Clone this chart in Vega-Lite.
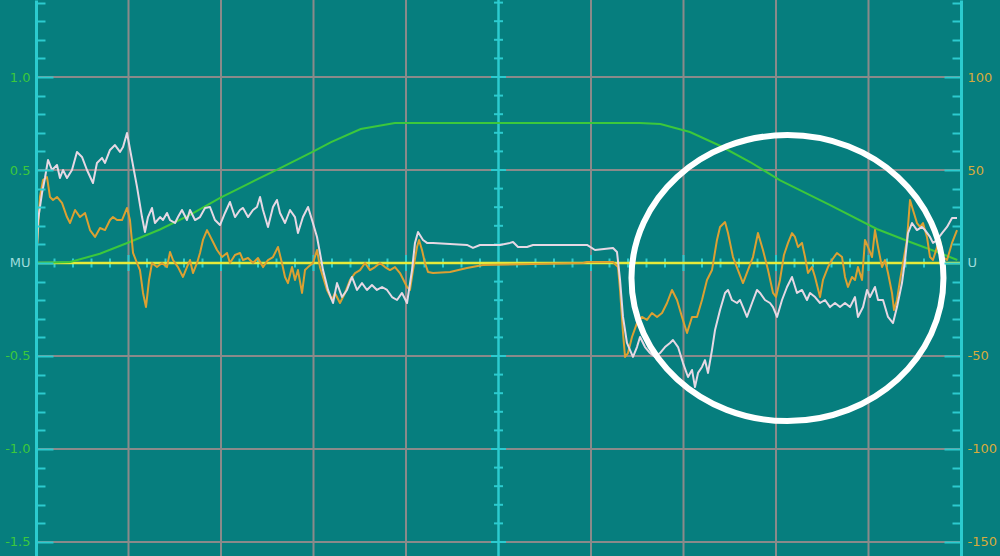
{
  "$schema": "https://vega.github.io/schema/vega-lite/v6.json",
  "width": 925,
  "height": 556,
  "autosize": {"type": "none"},
  "padding": {"left": 36, "right": 39, "top": 0, "bottom": 0},
  "background": "#067e7e",
  "config": {"view": {"stroke": null}},
  "datasets": {
    "vgrid": [{"t": 1}, {"t": 2}, {"t": 3}, {"t": 4}, {"t": 6}, {"t": 7}, {"t": 8}, {"t": 9}],
    "hgrid": [{"v": 1}, {"v": 0.5}, {"v": -0.5}, {"v": -1}, {"v": -1.5}],
    "xticks": [{"t":0.2},{"t":0.4},{"t":0.6},{"t":0.8},{"t":1},{"t":1.2},{"t":1.4},{"t":1.6},{"t":1.8},{"t":2},{"t":2.2},{"t":2.4},{"t":2.6},{"t":2.8},{"t":3},{"t":3.2},{"t":3.4},{"t":3.6},{"t":3.8},{"t":4},{"t":4.2},{"t":4.4},{"t":4.6},{"t":4.8},{"t":5.2},{"t":5.4},{"t":5.6},{"t":5.8},{"t":6},{"t":6.2},{"t":6.4},{"t":6.6},{"t":6.8},{"t":7},{"t":7.2},{"t":7.4},{"t":7.6},{"t":7.8},{"t":8},{"t":8.2},{"t":8.4},{"t":8.6},{"t":8.8},{"t":9},{"t":9.2},{"t":9.4},{"t":9.6},{"t":9.8}],
    "yticks": [{"v":-1.5},{"v":-1.4},{"v":-1.3},{"v":-1.2},{"v":-1.1},{"v":-1},{"v":-0.9},{"v":-0.8},{"v":-0.7},{"v":-0.6},{"v":-0.5},{"v":-0.4},{"v":-0.3},{"v":-0.2},{"v":-0.1},{"v":0.1},{"v":0.2},{"v":0.3},{"v":0.4},{"v":0.5},{"v":0.6},{"v":0.7},{"v":0.8},{"v":0.9},{"v":1},{"v":1.1},{"v":1.2},{"v":1.3},{"v":1.4}],
    "green": [{"t":0,"v":0},{"t":0.37,"v":0.005},{"t":0.69,"v":0.05},{"t":1.0,"v":0.11},{"t":1.34,"v":0.18},{"t":1.67,"v":0.26},{"t":1.99,"v":0.35},{"t":2.31,"v":0.43},{"t":2.64,"v":0.51},{"t":3.0,"v":0.6},{"t":3.19,"v":0.65},{"t":3.51,"v":0.72},{"t":3.88,"v":0.753},{"t":6.53,"v":0.753},{"t":6.75,"v":0.747},{"t":7.07,"v":0.704},{"t":7.4,"v":0.629},{"t":7.72,"v":0.543},{"t":8.04,"v":0.446},{"t":8.58,"v":0.312},{"t":9.09,"v":0.183},{"t":9.45,"v":0.113},{"t":9.77,"v":0.054},{"t":9.96,"v":0.016}],
    "orange": [{"t":0,"v":0.032},{"t":0.011,"v":0.086},{"t":0.043,"v":0.355},{"t":0.076,"v":0.446},{"t":0.119,"v":0.462},{"t":0.151,"v":0.355},{"t":0.184,"v":0.339},{"t":0.227,"v":0.355},{"t":0.281,"v":0.323},{"t":0.335,"v":0.247},{"t":0.368,"v":0.215},{"t":0.422,"v":0.285},{"t":0.476,"v":0.247},{"t":0.53,"v":0.269},{"t":0.584,"v":0.177},{"t":0.638,"v":0.14},{"t":0.692,"v":0.188},{"t":0.746,"v":0.177},{"t":0.8,"v":0.231},{"t":0.832,"v":0.247},{"t":0.876,"v":0.231},{"t":0.93,"v":0.231},{"t":0.984,"v":0.296},{"t":1.016,"v":0.231},{"t":1.049,"v":0.054},{"t":1.092,"v":0},{"t":1.124,"v":-0.038},{"t":1.157,"v":-0.161},{"t":1.189,"v":-0.237},{"t":1.222,"v":-0.091},{"t":1.254,"v":0},{"t":1.308,"v":-0.022},{"t":1.362,"v":0},{"t":1.416,"v":-0.022},{"t":1.449,"v":0.059},{"t":1.481,"v":0.016},{"t":1.535,"v":-0.022},{"t":1.589,"v":-0.075},{"t":1.632,"v":-0.022},{"t":1.665,"v":0.016},{"t":1.697,"v":-0.054},{"t":1.741,"v":0},{"t":1.773,"v":0.054},{"t":1.805,"v":0.124},{"t":1.849,"v":0.177},{"t":1.903,"v":0.124},{"t":1.957,"v":0.07},{"t":2.011,"v":0.032},{"t":2.065,"v":0.054},{"t":2.097,"v":0},{"t":2.151,"v":0.043},{"t":2.205,"v":0.054},{"t":2.238,"v":0.016},{"t":2.292,"v":0.027},{"t":2.346,"v":0},{"t":2.4,"v":0.027},{"t":2.454,"v":-0.022},{"t":2.508,"v":0.016},{"t":2.562,"v":0.032},{"t":2.616,"v":0.086},{"t":2.659,"v":0},{"t":2.692,"v":-0.075},{"t":2.724,"v":-0.108},{"t":2.768,"v":-0.022},{"t":2.8,"v":-0.091},{"t":2.832,"v":-0.038},{"t":2.876,"v":-0.161},{"t":2.908,"v":-0.038},{"t":2.941,"v":-0.022},{"t":2.995,"v":0},{"t":3.038,"v":0.07},{"t":3.07,"v":-0.022},{"t":3.103,"v":-0.075},{"t":3.146,"v":-0.145},{"t":3.2,"v":-0.199},{"t":3.232,"v":-0.161},{"t":3.286,"v":-0.215},{"t":3.341,"v":-0.161},{"t":3.395,"v":-0.091},{"t":3.449,"v":-0.054},{"t":3.503,"v":-0.038},{"t":3.557,"v":0},{"t":3.611,"v":-0.038},{"t":3.665,"v":-0.022},{"t":3.719,"v":0},{"t":3.773,"v":-0.022},{"t":3.827,"v":-0.038},{"t":3.881,"v":-0.022},{"t":3.935,"v":-0.054},{"t":4.011,"v":-0.129},{"t":4.043,"v":-0.145},{"t":4.076,"v":-0.038},{"t":4.119,"v":0.086},{"t":4.141,"v":0.124},{"t":4.173,"v":0.07},{"t":4.205,"v":0},{"t":4.238,"v":-0.048},{"t":4.292,"v":-0.054},{"t":4.476,"v":-0.048},{"t":4.659,"v":-0.027},{"t":4.832,"v":-0.011},{"t":5.373,"v":-0.005},{"t":5.914,"v":0},{"t":5.957,"v":0.005},{"t":6.238,"v":0.005},{"t":6.292,"v":-0.022},{"t":6.314,"v":-0.145},{"t":6.346,"v":-0.376},{"t":6.368,"v":-0.505},{"t":6.4,"v":-0.484},{"t":6.443,"v":-0.398},{"t":6.497,"v":-0.323},{"t":6.551,"v":-0.29},{"t":6.605,"v":-0.306},{"t":6.659,"v":-0.269},{"t":6.714,"v":-0.29},{"t":6.768,"v":-0.269},{"t":6.822,"v":-0.215},{"t":6.876,"v":-0.145},{"t":6.93,"v":-0.199},{"t":6.984,"v":-0.29},{"t":7.038,"v":-0.376},{"t":7.092,"v":-0.29},{"t":7.146,"v":-0.29},{"t":7.2,"v":-0.199},{"t":7.254,"v":-0.091},{"t":7.308,"v":-0.038},{"t":7.362,"v":0.124},{"t":7.395,"v":0.194},{"t":7.449,"v":0.22},{"t":7.481,"v":0.161},{"t":7.535,"v":0.032},{"t":7.589,"v":-0.038},{"t":7.643,"v":-0.108},{"t":7.697,"v":-0.038},{"t":7.751,"v":0.032},{"t":7.805,"v":0.161},{"t":7.859,"v":0.07},{"t":7.914,"v":-0.038},{"t":7.968,"v":-0.161},{"t":8.0,"v":-0.183},{"t":8.043,"v":-0.091},{"t":8.086,"v":0.043},{"t":8.13,"v":0.108},{"t":8.173,"v":0.161},{"t":8.205,"v":0.14},{"t":8.238,"v":0.086},{"t":8.281,"v":0.108},{"t":8.314,"v":0.032},{"t":8.346,"v":-0.054},{"t":8.389,"v":-0.022},{"t":8.422,"v":-0.075},{"t":8.476,"v":-0.183},{"t":8.508,"v":-0.091},{"t":8.562,"v":-0.022},{"t":8.605,"v":0.016},{"t":8.659,"v":0.054},{"t":8.714,"v":0.032},{"t":8.746,"v":-0.075},{"t":8.778,"v":-0.129},{"t":8.822,"v":-0.075},{"t":8.854,"v":-0.091},{"t":8.886,"v":-0.022},{"t":8.93,"v":-0.091},{"t":8.962,"v":0.124},{"t":8.995,"v":0.086},{"t":9.038,"v":0.032},{"t":9.07,"v":0.177},{"t":9.103,"v":0.086},{"t":9.146,"v":-0.022},{"t":9.178,"v":0.016},{"t":9.211,"v":-0.054},{"t":9.254,"v":-0.161},{"t":9.276,"v":-0.253},{"t":9.308,"v":-0.199},{"t":9.341,"v":-0.091},{"t":9.373,"v":0},{"t":9.416,"v":0.124},{"t":9.449,"v":0.339},{"t":9.481,"v":0.285},{"t":9.524,"v":0.215},{"t":9.557,"v":0.194},{"t":9.589,"v":0.215},{"t":9.632,"v":0.14},{"t":9.665,"v":0.032},{"t":9.697,"v":0.016},{"t":9.741,"v":0.086},{"t":9.773,"v":0.124},{"t":9.805,"v":0.032},{"t":9.849,"v":0.016},{"t":9.903,"v":0.108},{"t":9.957,"v":0.177}],
    "white": [{"t":0,"v":0},{"t":0.011,"v":0.086},{"t":0.022,"v":0.231},{"t":0.065,"v":0.376},{"t":0.097,"v":0.457},{"t":0.13,"v":0.554},{"t":0.173,"v":0.5},{"t":0.227,"v":0.527},{"t":0.259,"v":0.457},{"t":0.292,"v":0.5},{"t":0.335,"v":0.457},{"t":0.389,"v":0.5},{"t":0.443,"v":0.597},{"t":0.497,"v":0.57},{"t":0.551,"v":0.5},{"t":0.616,"v":0.43},{"t":0.659,"v":0.538},{"t":0.714,"v":0.565},{"t":0.746,"v":0.538},{"t":0.8,"v":0.608},{"t":0.854,"v":0.634},{"t":0.908,"v":0.597},{"t":0.941,"v":0.624},{"t":0.984,"v":0.699},{"t":1.038,"v":0.554},{"t":1.092,"v":0.409},{"t":1.146,"v":0.247},{"t":1.178,"v":0.167},{"t":1.211,"v":0.247},{"t":1.254,"v":0.296},{"t":1.286,"v":0.215},{"t":1.341,"v":0.247},{"t":1.373,"v":0.231},{"t":1.416,"v":0.269},{"t":1.449,"v":0.231},{"t":1.503,"v":0.215},{"t":1.535,"v":0.247},{"t":1.578,"v":0.285},{"t":1.632,"v":0.231},{"t":1.665,"v":0.285},{"t":1.719,"v":0.231},{"t":1.773,"v":0.247},{"t":1.827,"v":0.296},{"t":1.881,"v":0.301},{"t":1.935,"v":0.231},{"t":1.989,"v":0.204},{"t":2.043,"v":0.269},{"t":2.097,"v":0.328},{"t":2.151,"v":0.247},{"t":2.205,"v":0.285},{"t":2.238,"v":0.296},{"t":2.292,"v":0.247},{"t":2.346,"v":0.285},{"t":2.389,"v":0.301},{"t":2.422,"v":0.355},{"t":2.454,"v":0.285},{"t":2.508,"v":0.194},{"t":2.562,"v":0.301},{"t":2.605,"v":0.339},{"t":2.638,"v":0.269},{"t":2.692,"v":0.215},{"t":2.746,"v":0.285},{"t":2.8,"v":0.247},{"t":2.832,"v":0.161},{"t":2.886,"v":0.247},{"t":2.941,"v":0.301},{"t":2.984,"v":0.231},{"t":3.038,"v":0.14},{"t":3.07,"v":0.054},{"t":3.103,"v":-0.038},{"t":3.157,"v":-0.145},{"t":3.211,"v":-0.215},{"t":3.254,"v":-0.108},{"t":3.308,"v":-0.183},{"t":3.362,"v":-0.145},{"t":3.416,"v":-0.075},{"t":3.47,"v":-0.145},{"t":3.524,"v":-0.108},{"t":3.578,"v":-0.145},{"t":3.632,"v":-0.118},{"t":3.686,"v":-0.145},{"t":3.741,"v":-0.129},{"t":3.795,"v":-0.145},{"t":3.849,"v":-0.183},{"t":3.903,"v":-0.199},{"t":3.957,"v":-0.161},{"t":4.011,"v":-0.215},{"t":4.065,"v":-0.038},{"t":4.097,"v":0.108},{"t":4.13,"v":0.167},{"t":4.184,"v":0.124},{"t":4.227,"v":0.108},{"t":4.292,"v":0.108},{"t":4.659,"v":0.097},{"t":4.724,"v":0.081},{"t":4.8,"v":0.097},{"t":5.016,"v":0.097},{"t":5.124,"v":0.108},{"t":5.157,"v":0.113},{"t":5.211,"v":0.086},{"t":5.308,"v":0.086},{"t":5.373,"v":0.097},{"t":5.957,"v":0.097},{"t":6.043,"v":0.07},{"t":6.238,"v":0.081},{"t":6.281,"v":0.059},{"t":6.314,"v":-0.091},{"t":6.346,"v":-0.29},{"t":6.389,"v":-0.43},{"t":6.422,"v":-0.468},{"t":6.454,"v":-0.505},{"t":6.497,"v":-0.452},{"t":6.53,"v":-0.398},{"t":6.584,"v":-0.452},{"t":6.638,"v":-0.484},{"t":6.692,"v":-0.505},{"t":6.746,"v":-0.484},{"t":6.8,"v":-0.452},{"t":6.854,"v":-0.43},{"t":6.886,"v":-0.414},{"t":6.941,"v":-0.452},{"t":6.995,"v":-0.538},{"t":7.049,"v":-0.613},{"t":7.092,"v":-0.575},{"t":7.124,"v":-0.667},{"t":7.157,"v":-0.591},{"t":7.2,"v":-0.559},{"t":7.232,"v":-0.522},{"t":7.265,"v":-0.591},{"t":7.308,"v":-0.468},{"t":7.341,"v":-0.36},{"t":7.395,"v":-0.253},{"t":7.449,"v":-0.161},{"t":7.481,"v":-0.145},{"t":7.524,"v":-0.199},{"t":7.578,"v":-0.215},{"t":7.611,"v":-0.199},{"t":7.643,"v":-0.237},{"t":7.686,"v":-0.29},{"t":7.741,"v":-0.215},{"t":7.795,"v":-0.145},{"t":7.827,"v":-0.161},{"t":7.881,"v":-0.199},{"t":7.935,"v":-0.215},{"t":7.968,"v":-0.237},{"t":8.011,"v":-0.29},{"t":8.065,"v":-0.199},{"t":8.119,"v":-0.129},{"t":8.173,"v":-0.075},{"t":8.227,"v":-0.161},{"t":8.281,"v":-0.145},{"t":8.335,"v":-0.199},{"t":8.368,"v":-0.161},{"t":8.422,"v":-0.183},{"t":8.476,"v":-0.215},{"t":8.53,"v":-0.199},{"t":8.584,"v":-0.237},{"t":8.638,"v":-0.215},{"t":8.692,"v":-0.237},{"t":8.746,"v":-0.215},{"t":8.8,"v":-0.237},{"t":8.854,"v":-0.183},{"t":8.886,"v":-0.29},{"t":8.941,"v":-0.237},{"t":8.984,"v":-0.145},{"t":9.016,"v":-0.183},{"t":9.07,"v":-0.129},{"t":9.103,"v":-0.199},{"t":9.157,"v":-0.199},{"t":9.211,"v":-0.29},{"t":9.265,"v":-0.323},{"t":9.308,"v":-0.237},{"t":9.362,"v":-0.108},{"t":9.395,"v":0.016},{"t":9.427,"v":0.161},{"t":9.47,"v":0.215},{"t":9.524,"v":0.177},{"t":9.578,"v":0.194},{"t":9.611,"v":0.177},{"t":9.665,"v":0.14},{"t":9.697,"v":0.108},{"t":9.741,"v":0.124},{"t":9.795,"v":0.161},{"t":9.849,"v":0.194},{"t":9.903,"v":0.242},{"t":9.957,"v":0.242}],
    "callout": [{"t": 8.124, "v": -0.081}]
  },
  "resolve": {"axis": {"y": "independent"}},
  "layer": [
    {
      "data": {"name": "vgrid"},
      "mark": {"type": "rule", "color": "#8a8a8a", "strokeWidth": 2},
      "encoding": {
        "x": {"field": "t", "type": "quantitative", "scale": {"domain": [0, 10], "nice": false, "zero": false}, "axis": null}
      }
    },
    {
      "data": {"name": "hgrid"},
      "mark": {"type": "rule", "color": "#8a8a8a", "strokeWidth": 2},
      "encoding": {
        "y": {
          "field": "v", "type": "quantitative",
          "scale": {"domain": [-1.5753, 1.414], "nice": false, "zero": false},
          "axis": {
            "orient": "left", "title": null, "grid": false, "zindex": 1,
            "values": [-1.5,-1.4,-1.3,-1.2,-1.1,-1,-0.9,-0.8,-0.7,-0.6,-0.5,-0.4,-0.3,-0.2,-0.1,0,0.1,0.2,0.3,0.4,0.5,0.6,0.7,0.8,0.9,1,1.1,1.2,1.3,1.4],
            "domain": true, "domainColor": "#2ccbcf", "domainWidth": 3,
            "ticks": true, "tickColor": "#2ccbcf", "tickWidth": 2,
            "tickSize": {"condition": {"test": "abs(datum.value*2 - round(datum.value*2)) < 0.001", "value": -17}, "value": -9},
            "labelExpr": "abs(datum.value*2 - round(datum.value*2)) < 0.001 ? (datum.value == 0 ? 'MU' : (datum.value < 0 ? '-' : '') + format(abs(datum.value), '.1f')) : ''",
            "labelColor": {"condition": {"test": "datum.value == 0", "value": "#9fdcdc"}, "value": "#3cc83c"},
            "labelFont": "DejaVu Sans", "labelFontSize": 13,
            "labelPadding": 23, "labelOverlap": false, "labelFlush": false, "labelBound": false
          }
        }
      }
    },
    {
      "data": {"values": [{}]},
      "mark": {"type": "rule", "color": "#2ccbcf", "strokeWidth": 2.5},
      "encoding": {
        "x": {"datum": 5, "type": "quantitative", "scale": {"domain": [0, 10], "nice": false, "zero": false}, "axis": null}
      }
    },
    {
      "data": {"name": "xticks"},
      "mark": {"type": "tick", "orient": "vertical", "color": "#2ccbcf", "thickness": 2, "opacity": 1},
      "encoding": {
        "x": {"field": "t", "type": "quantitative", "scale": {"domain": [0, 10], "nice": false, "zero": false}, "axis": null},
        "y": {"datum": 0, "type": "quantitative", "scale": {"domain": [-1.5753, 1.414], "nice": false, "zero": false}, "axis": null},
        "size": {"condition": {"test": "datum.t % 1 == 0", "value": 16}, "value": 9}
      }
    },
    {
      "data": {"name": "yticks"},
      "mark": {"type": "tick", "orient": "horizontal", "color": "#2ccbcf", "thickness": 2, "opacity": 1},
      "encoding": {
        "x": {"datum": 5, "type": "quantitative", "scale": {"domain": [0, 10], "nice": false, "zero": false}, "axis": null},
        "y": {
          "field": "v", "type": "quantitative",
          "scale": {"domain": [-1.5753, 1.414], "nice": false, "zero": false},
          "axis": {
            "orient": "right", "title": null, "grid": false, "zindex": 1,
            "values": [-1.5,-1.4,-1.3,-1.2,-1.1,-1,-0.9,-0.8,-0.7,-0.6,-0.5,-0.4,-0.3,-0.2,-0.1,0,0.1,0.2,0.3,0.4,0.5,0.6,0.7,0.8,0.9,1,1.1,1.2,1.3,1.4],
            "domain": true, "domainColor": "#2ccbcf", "domainWidth": 3,
            "ticks": true, "tickColor": "#2ccbcf", "tickWidth": 2,
            "tickSize": {"condition": {"test": "abs(datum.value*2 - round(datum.value*2)) < 0.001", "value": -17}, "value": -9},
            "labelExpr": "abs(datum.value*2 - round(datum.value*2)) < 0.001 ? (datum.value == 0 ? 'U' : (datum.value < 0 ? '-' : '') + format(abs(datum.value) * 100, '.0f')) : ''",
            "labelColor": {"condition": {"test": "datum.value == 0", "value": "#9fdcdc"}, "value": "#d6ab3c"},
            "labelFont": "DejaVu Sans", "labelFontSize": 13,
            "labelPadding": 23, "labelOverlap": false, "labelFlush": false, "labelBound": false
          }
        },
        "size": {"condition": {"test": "abs(datum.v*2 - round(datum.v*2)) < 0.001", "value": 15}, "value": 9}
      }
    },
    {
      "data": {"values": [{}]},
      "mark": {"type": "rule", "color": "#e6ea3a", "strokeWidth": 2.5},
      "encoding": {
        "y": {"datum": 0, "type": "quantitative", "scale": {"domain": [-1.5753, 1.414], "nice": false, "zero": false}, "axis": null}
      }
    },
    {
      "data": {"name": "green"},
      "mark": {"type": "line", "color": "#3cc83c", "strokeWidth": 2},
      "encoding": {
        "x": {"field": "t", "type": "quantitative", "scale": {"domain": [0, 10], "nice": false, "zero": false}, "axis": null},
        "y": {"field": "v", "type": "quantitative", "scale": {"domain": [-1.5753, 1.414], "nice": false, "zero": false}, "axis": null}
      }
    },
    {
      "data": {"name": "orange"},
      "mark": {"type": "line", "color": "#dca032", "strokeWidth": 2, "strokeJoin": "round"},
      "encoding": {
        "x": {"field": "t", "type": "quantitative", "scale": {"domain": [0, 10], "nice": false, "zero": false}, "axis": null},
        "y": {"field": "v", "type": "quantitative", "scale": {"domain": [-1.5753, 1.414], "nice": false, "zero": false}, "axis": null}
      }
    },
    {
      "data": {"name": "white"},
      "mark": {"type": "line", "color": "#e6d8e4", "strokeWidth": 2, "strokeJoin": "round"},
      "encoding": {
        "x": {"field": "t", "type": "quantitative", "scale": {"domain": [0, 10], "nice": false, "zero": false}, "axis": null},
        "y": {"field": "v", "type": "quantitative", "scale": {"domain": [-1.5753, 1.414], "nice": false, "zero": false}, "axis": null}
      }
    },
    {
      "data": {"name": "callout"},
      "mark": {
        "type": "point",
        "shape": "M 1 0 C 1 0.5063 0.5523 0.9167 0 0.9167 C -0.5523 0.9167 -1 0.5063 -1 0 C -1 -0.5063 -0.5523 -0.9167 0 -0.9167 C 0.5523 -0.9167 1 -0.5063 1 0 Z",
        "filled": false, "color": "#ffffff", "stroke": "#ffffff", "strokeWidth": 6, "size": 97344, "opacity": 1
      },
      "encoding": {
        "x": {"field": "t", "type": "quantitative", "scale": {"domain": [0, 10], "nice": false, "zero": false}, "axis": null},
        "y": {"field": "v", "type": "quantitative", "scale": {"domain": [-1.5753, 1.414], "nice": false, "zero": false}, "axis": null}
      }
    }
  ]
}
